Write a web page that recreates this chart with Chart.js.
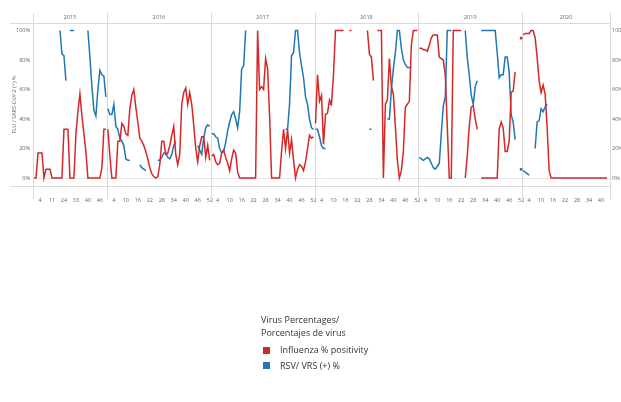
<!DOCTYPE html>
<html>
<head>
<meta charset="utf-8">
<script src="https://cdn.jsdelivr.net/npm/chart.js@4.4.1/dist/chart.umd.min.js"></script>
<style>
  html, body { margin: 0; padding: 0; background: #fff; }
  #wrap { position: relative; width: 621px; height: 402px; overflow: hidden; }
  .lg { position: absolute; font-family: 'Open Sans', sans-serif; font-size: 9px; color: #333; white-space: nowrap; line-height: 12px; }
  .sw { position: absolute; width: 7px; height: 7px; }
</style>
</head>
<body>
<div id="wrap">
  <canvas id="chart" width="621" height="402"></canvas>
  <div class="lg" style="left:261px; top:314px;">Virus Percentages/</div>
  <div class="lg" style="left:261px; top:327px;">Porcentajes de virus</div>
  <div class="sw" style="left:263px; top:347px; background:#d62728;"></div>
  <div class="lg" style="left:280px; top:344px;">Influenza % positivity</div>
  <div class="sw" style="left:263px; top:362px; background:#1f77b4;"></div>
  <div class="lg" style="left:280px; top:360px;">RSV/ VRS (+) %</div>
</div>
<script>
// Colores de las series
const RED = '#d62728';
const BLUE = '#1f77b4';

// Años (paneles) y semanas de cada año
const years = ['2015', '2016', '2017', '2018', '2019', '2020'];
const weeks2015 = [1,2,3,4,5,6,7,8,9,11, 13,15,17,19,21,24, 25,27,29,31,32,33, 34,35,36,37,39,40, 41,42,43,44,45,46, 47,48,49];

function weekRange(n) {
    const w = [];
    for (let i = 1; i <= n; i++) w.push(i);
    return w;
}
const weeksPerYear = [weeks2015, weekRange(52), weekRange(52), weekRange(52), weekRange(52), weekRange(44)];

const yTicks = [0, 20, 40, 60, 80, 100];

// Influenza % positividad
const flu2015 = [0,0,17,17,17,0,6,6,6,0, 0,0,0,0,0,33,33,33,0,0, 0,30,45,57,42,30,18,0,0,0, 0,0,0,0,7,33,33];
const flu2016 = [33,15,0,0,0,25,25,37,35,30, 29,47,56,60,48,38,27,25,22,18, 13,7,3,1,0,1,9,25,25,16, 17,22,29,35,16,9,16,50,58,61, 50,58,50,36,20,11,22,28,28,14, 22,12];
const flu2017 = [15,16,11,9,10,17,19,14,10,5, 13,19,17,4,0,0,0,0,0,0, 0,0,0,100,60,62,60,81,74,42, 0,0,0,0,0,18,33,20,33,17, 26,12,0,6,9,8,5,11,20,29, 27,28];
const flu2018 = [37,70,52,56,23,43,44,53,50,70, 100,100,100,100,100,null,null,100,100,null, null,null,null,null,null,null,100,84,82,66, null,100,100,100,0,50,53,81,62,57, 35,12,0,5,18,48,50,52,90,100, 100,100];
const flu2019 = [88,88,87,87,86,90,95,97,97,97, 82,81,80,70,35,0,0,100,100,100, 100,100,null,0,15,35,48,49,40,33, null,0,0,0,0,0,0,0,0,0, 33,38,34,18,18,25,58,59,72,null, null,95];
const flu2020 = [97,98,98,98,100,100,95,82,66,58, 63,57,35,5,0,0,0,0,0,0, 0,0,0,0,0,0,0,0,0,0, 0,0,0,0,0,0,0,0,0,0, 0,0,0,null];

// RSV / VRS (+) %
const rsv2015 = [null,null,null,null,null,null,null,null,null,null, null,null,null,100,84,83,66,null,100,100, 100,null,null,null,null,null,null,100,82,62, 46,42,60,73,70,69,55];
const rsv2016 = [47,43,43,50,35,33,27,25,22,13, 12,12,null,null,null,null,9,7,6,5, null,null,null,null,null,12,12,14,17,17, 14,13,16,22,25,null,null,null,null,null, null,null,null,null,null,22,19,16,27,34, 36,35];
const rsv2017 = [30,30,28,27,20,17,18,24,32,38, 43,45,40,34,45,74,76,100,null,null, null,null,null,null,null,null,null,null,null,null, null,null,null,null,null,null,null,33,33,50, 83,85,100,100,85,76,68,55,50,40, 34,33];
const rsv2018 = [33,33,28,22,20,20,null,50,50,null, null,null,null,null,null,null,null,null,null,null, null,null,null,null,null,null,null,33,33,null, null,null,null,null,null,null,40,40,60,74, 85,100,100,88,80,77,75,75,75,null, null,null];
const rsv2019 = [14,13,12,13,14,13,10,7,6,8, 10,30,49,55,100,100,100,null,null,null, null,null,null,100,82,70,56,50,62,66, null,100,100,100,100,100,100,100,100,85, 68,70,70,82,82,72,43,38,26,null, null,6];
const rsv2020 = [5,4,3,2,null,null,20,38,39,47, 45,48,50,null,null,null,null,null,null,null, null,null,null,null,null,null,null,null,null,null, null,null,null,null,null,null,null,null,null,null, null,null,null,null];

const fluPerYear = [flu2015, flu2016, flu2017, flu2018, flu2019, flu2020];
const rsvPerYear = [rsv2015, rsv2016, rsv2017, rsv2018, rsv2019, rsv2020];

// Gabungkan semua tahun menjadi satu sumbu kategori
const labels = [];
const yearOf = [];
const posInYear = [];
const yearStart = [];
let fluAll = [];
let rsvAll = [];
weeksPerYear.forEach((weeks, k) => {
    yearStart.push(labels.length);
    weeks.forEach((w, i) => {
        labels.push(String(w));
        yearOf.push(k);
        posInYear.push(i);
    });
    fluAll = fluAll.concat(fluPerYear[k]);
    rsvAll = rsvAll.concat(rsvPerYear[k]);
});

function isolated(data, i) {
    if (data[i] === null || data[i] === undefined) return false;
    const prev = (i > 0 && yearOf[i - 1] === yearOf[i]) ? data[i - 1] : null;
    const next = (i < data.length - 1 && yearOf[i + 1] === yearOf[i]) ? data[i + 1] : null;
    return prev === null && next === null;
}

function seriesDataset(label, data, color) {
    return {
        label: label,
        data: data,
        borderColor: color,
        backgroundColor: color,
        borderWidth: 1.5,
        tension: 0,
        spanGaps: false,
        pointRadius: ctx => isolated(data, ctx.dataIndex) ? 1.5 : 0,
        pointBorderWidth: 0,
        pointHoverRadius: 0,
        segment: {
            // Tableau tidak menyambung garis antar panel tahun
            borderColor: ctx => yearOf[ctx.p0DataIndex] === yearOf[ctx.p1DataIndex] ? color : 'transparent'
        }
    };
}

// Panel tahun: garis pemisah dan judul tahun
const panelPlugin = {
    id: 'panels',
    beforeDatasetsDraw(chart) {
        const { ctx, chartArea, scales: { x } } = chart;
        const step = x.getPixelForValue(1) - x.getPixelForValue(0);
        ctx.save();
        ctx.strokeStyle = '#dadada';
        ctx.lineWidth = 1;
        ctx.beginPath();
        ctx.moveTo(10, Math.round(chartArea.top) + 0.5);
        ctx.lineTo(chartArea.right, Math.round(chartArea.top) + 0.5);
        ctx.moveTo(10, Math.round(chartArea.bottom) + 0.5);
        ctx.lineTo(chartArea.right, Math.round(chartArea.bottom) + 0.5);
        const edges = yearStart.map(s => x.getPixelForValue(s) - step / 2);
        edges.push(chartArea.right);
        edges.forEach(e => {
            const px = Math.round(e) + 0.5;
            ctx.moveTo(px, chartArea.top - 10);
            ctx.lineTo(px, chartArea.bottom + 13);
        });
        ctx.stroke();
        ctx.fillStyle = '#666';
        ctx.font = "5.5px 'Open Sans', sans-serif";
        ctx.textAlign = 'center';
        ctx.textBaseline = 'middle';
        years.forEach((y, k) => {
            ctx.fillText(y, (edges[k] + edges[k + 1]) / 2, chartArea.top - 5.5);
        });
        ctx.restore();
    }
};

const tickFont = { family: "'Open Sans', sans-serif", size: 5.5 };

const ctx = document.getElementById('chart').getContext('2d');
new Chart(ctx, {
    type: 'line',
    data: {
        labels: labels,
        datasets: [
            seriesDataset('Influenza % positivity', fluAll, RED),
            seriesDataset('RSV/ VRS (+) %', rsvAll, BLUE)
        ]
    },
    options: {
        responsive: false,
        animation: false,
        layout: { padding: { top: 23, left: 0, right: 0, bottom: 0 } },
        plugins: {
            legend: { display: false },
            tooltip: { enabled: false }
        },
        scales: {
            x: {
                type: 'category',
                offset: true,
                grid: { display: false },
                border: { display: false },
                ticks: {
                    autoSkip: false,
                    maxRotation: 0,
                    font: tickFont,
                    color: '#666',
                    padding: 3,
                    callback: (value, index) => posInYear[index] % 6 === 3 ? labels[index] : null
                },
                afterFit: scale => { scale.height = 216; }
            },
            y: {
                position: 'left',
                min: -5.4,
                max: 105.1,
                afterBuildTicks: scale => { scale.ticks = yTicks.map(v => ({ value: v })); },
                ticks: { font: tickFont, color: '#666', padding: 3, callback: v => v + '%' },
                grid: { drawTicks: false, color: c => (c.tick && c.tick.value === 0) ? '#e6e6e6' : 'transparent' },
                border: { display: false },
                title: {
                    display: true,
                    text: 'FLU / SARS-CoV-2 (+) %',
                    font: tickFont,
                    color: '#666',
                    padding: { top: 11, bottom: 0 }
                },
                afterFit: scale => { scale.width = 33; }
            },
            y2: {
                position: 'right',
                min: -5.4,
                max: 105.1,
                afterBuildTicks: scale => { scale.ticks = yTicks.map(v => ({ value: v })); },
                ticks: { font: tickFont, color: '#666', padding: 2, callback: v => v + '%' },
                grid: { display: false, drawTicks: false },
                border: { display: false },
                afterFit: scale => { scale.width = 11; }
            }
        }
    },
    plugins: [panelPlugin]
});
</script>
</body>
</html>
